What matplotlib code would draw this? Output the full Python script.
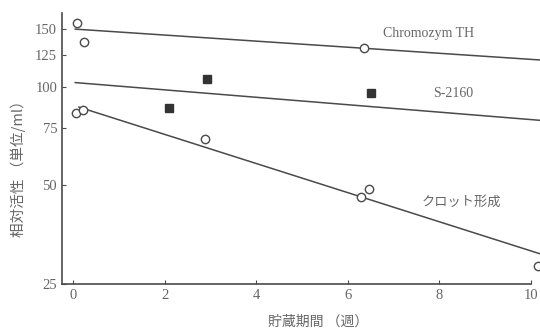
import matplotlib.pyplot as plt
from matplotlib.ticker import NullFormatter, NullLocator

plt.rcParams['font.family'] = ['Liberation Serif', 'Noto Sans CJK JP']

# 測定点 (週, 単位/ml)
chromo_x = [0.09, 0.24, 6.35]
chromo_y = [157, 137, 131]
s2160_x = [2.09, 2.93, 6.5]
s2160_y = [86, 105.5, 95.5]
clot_x = [0.07, 0.22, 2.89, 6.3, 6.46, 10.15]
clot_y = [83, 85, 69.3, 46, 48.7, 28.4]

# 回帰直線の両端
chromo_fit_x = [0.05, 10.3]
chromo_fit_y = [150, 120.5]
s2160_fit_x = [0.05, 10.3]
s2160_fit_y = [103, 78.8]
clot_fit_x = [0.13, 10.3]
clot_fit_y = [86.7, 30.6]

yticks = [25, 50, 75, 100, 125, 150]
xticks = [0, 2, 4, 6, 8, 10]

c = '#4a4a4a'
tc = '#666666'

fig = plt.figure(figsize=(5.4, 3.28), dpi=100)
ax = fig.add_axes([62 / 540, 1 - 284 / 328, 1 - 62 / 540, (284 - 13) / 328])
ax.set_yscale('log')
ax.set_xlim(-0.24, 10.2)
ax.set_ylim(25, 168)

ax.plot(chromo_fit_x, chromo_fit_y, color=c, lw=1.1)
ax.plot(s2160_fit_x, s2160_fit_y, color=c, lw=1.1)
ax.plot(clot_fit_x, clot_fit_y, color=c, lw=1.1)

ax.plot(chromo_x, chromo_y, 'o', ms=6, mfc='white', mec=c, mew=1.0, clip_on=False)
ax.plot(clot_x, clot_y, 'o', ms=6, mfc='white', mec=c, mew=1.0, clip_on=False)
ax.plot(s2160_x, s2160_y, 's', ms=5.5, color='#333333')

ax.text(7.77, 145, 'Chromozym TH', color=tc, fontsize=10, ha='center', va='center')
ax.text(8.3, 95.5, 'S-2160', color=tc, fontsize=10, ha='center', va='center')
ax.text(8.49, 44.5, 'クロット形成', color=tc, fontsize=9.5, ha='center', va='center',
        family=['Noto Sans CJK JP'])

ax.spines['top'].set_visible(False)
ax.spines['right'].set_visible(False)
ax.spines['bottom'].set_bounds(-0.24, 10)
for s in ('left', 'bottom'):
    ax.spines[s].set_color(c)
    ax.spines[s].set_linewidth(1.2)

ax.yaxis.set_minor_locator(NullLocator())
ax.yaxis.set_minor_formatter(NullFormatter())
ax.set_yticks(yticks)
ax.set_yticklabels([str(v) for v in yticks])
ax.set_xticks(xticks)
ax.tick_params(direction='in', length=3, color=c, labelcolor=tc, labelsize=10.5)

ax.set_xlabel('貯蔵期間 （週）', color=tc, fontsize=10, family=['Noto Sans CJK JP'])
ax.set_ylabel('相対活性 （単位/ml）', color=tc, fontsize=10.5, family=['Noto Sans CJK JP'])
ax.xaxis.set_label_coords(0.536, -0.115)
ax.yaxis.set_label_coords(-0.075, 0.44)

fig.savefig('out.png', dpi=100)
